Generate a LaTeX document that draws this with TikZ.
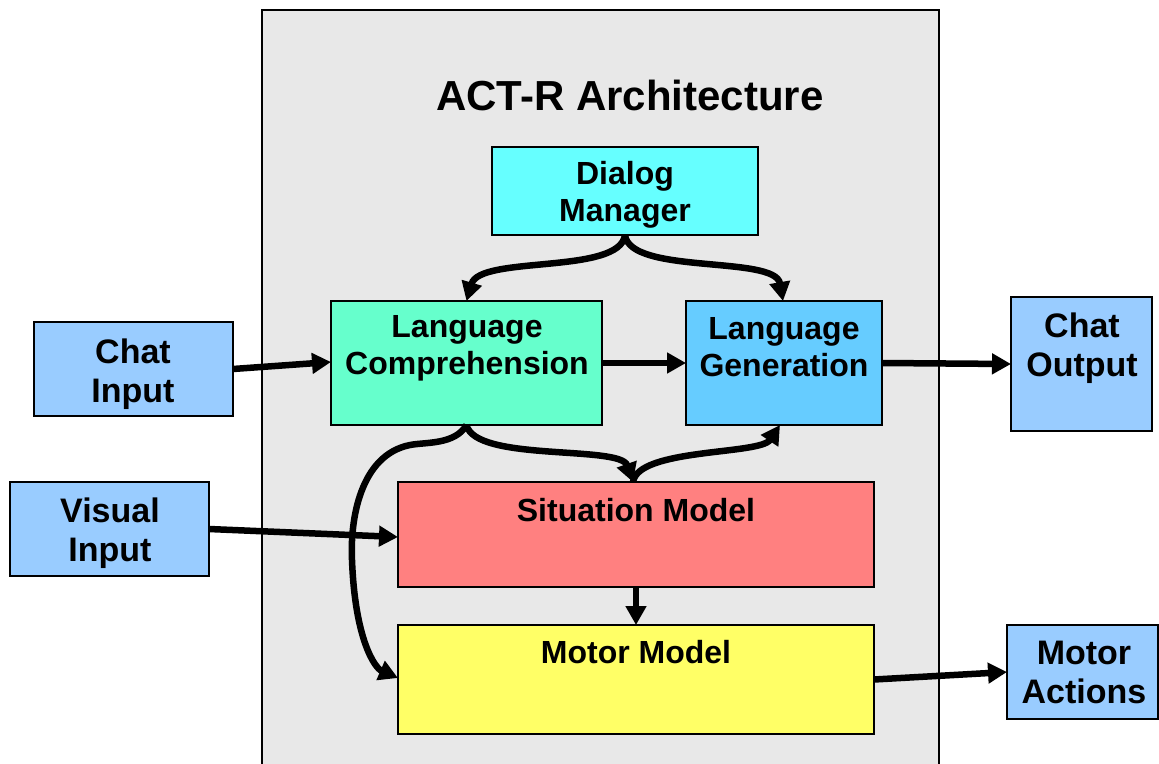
\documentclass[tikz,border=0pt]{standalone}
\usepackage{fontspec}
\setmainfont{Liberation Sans}
\usetikzlibrary{arrows.meta}
\definecolor{panelgray}{HTML}{E8E8E8}
\definecolor{dmcyan}{HTML}{66FFFF}
\definecolor{lcgreen}{HTML}{66FFCC}
\definecolor{lgblue}{HTML}{66CCFF}
\definecolor{smred}{HTML}{FF8080}
\definecolor{mmyellow}{HTML}{FFFF66}
\definecolor{ioblue}{HTML}{99CCFF}
\tikzset{
  box/.style={draw=black, line width=1.8pt, inner sep=0pt, outer sep=0pt},
  lbl/.style={align=center, font=\fontsize{32}{37}\selectfont\bfseries, inner sep=0pt},
  iolbl/.style={align=center, font=\fontsize{34}{39}\selectfont\bfseries, inner sep=0pt},
  conn/.style={line width=6.5pt, -{Triangle[length=19pt,width=20pt]}},
}
\begin{document}
\begin{tikzpicture}[x=1pt, y=-1pt]
\useasboundingbox (0,0) rectangle (1159,763);
\clip (0,0) rectangle (1159,763);
% architecture panel
\draw[fill=panelgray, line width=1.8pt] (262,10) rectangle (939,780);
\node[font=\fontsize{42}{48}\selectfont\bfseries, inner sep=0pt] (title) at (630,95) {ACT-R Architecture};

% module boxes
\node[box, fill=dmcyan, minimum width=266pt, minimum height=88pt] (dm) at (625,191) {};
\node[box, fill=lcgreen, minimum width=271pt, minimum height=124pt] (lc) at (466.5,363) {};
\node[box, fill=lgblue, minimum width=196pt, minimum height=124pt] (lg) at (784,363) {};
\node[box, fill=smred, minimum width=476pt, minimum height=105pt] (sm) at (636,534.5) {};
\node[box, fill=mmyellow, minimum width=476pt, minimum height=109pt] (mm) at (636,679.5) {};

% external inputs and outputs
\node[box, fill=ioblue, minimum width=199pt, minimum height=94pt] (ci) at (133.5,369) {};
\node[box, fill=ioblue, minimum width=199pt, minimum height=94pt] (vi) at (109.5,529) {};
\node[box, fill=ioblue, minimum width=141pt, minimum height=134pt] (co) at (1081.5,364) {};
\node[box, fill=ioblue, minimum width=151pt, minimum height=94pt] (ma) at (1082.5,672) {};

% labels
\node[lbl] (dmText) at (625,195) {Dialog\\Manager};
\node[lbl] (lcText) at (467,348.5) {Language\\Comprehension};
\node[lbl] (lgText) at (784,347) {Language\\Generation};
\node[lbl] (smText) at (636,510) {Situation Model};
\node[lbl] (mmText) at (636,652) {Motor Model};
\node[iolbl] (ciText) at (133,374) {Chat\\Input};
\node[iolbl] (viText) at (110,533.5) {Visual\\Input};
\node[iolbl] (coText) at (1082,348.5) {Chat\\Output};
\node[iolbl] (maText) at (1084,672) {Motor\\Actions};

% connectors
\draw[conn] (ci.east) -- ([yshift=1pt]lc.west);
\draw[conn] (lc.east) -- (lg.west);
\draw[conn] (lg.east) -- (co.west);
\draw[conn] (vi.east) -- ([yshift=-2.5pt]sm.west);
\draw[conn] (sm.south) -- (mm.north);
\draw[conn] (mm.east) -- (ma.west);

\draw[conn] (dm.south) .. controls (620,275) and (480,255) .. (lc.north);
\draw[conn] (dm.south) .. controls (630,275) and (775,255) .. ([xshift=-1pt]lg.north);

\draw[conn] (lc.south) .. controls (475,462) and (620,445) .. ([xshift=-3pt]sm.north);
\draw[conn] ([xshift=-3pt]sm.north) .. controls (638,448) and (760,455) .. ([xshift=-4pt]lg.south);

\draw[conn] (lc.south) .. controls (455,445) and (425,442) .. (410,445)
  .. controls (360,455) and (350,520) .. (352,560)
  .. controls (355,640) and (375,668) .. ([yshift=1.5pt]mm.west);
\end{tikzpicture}
\end{document}
